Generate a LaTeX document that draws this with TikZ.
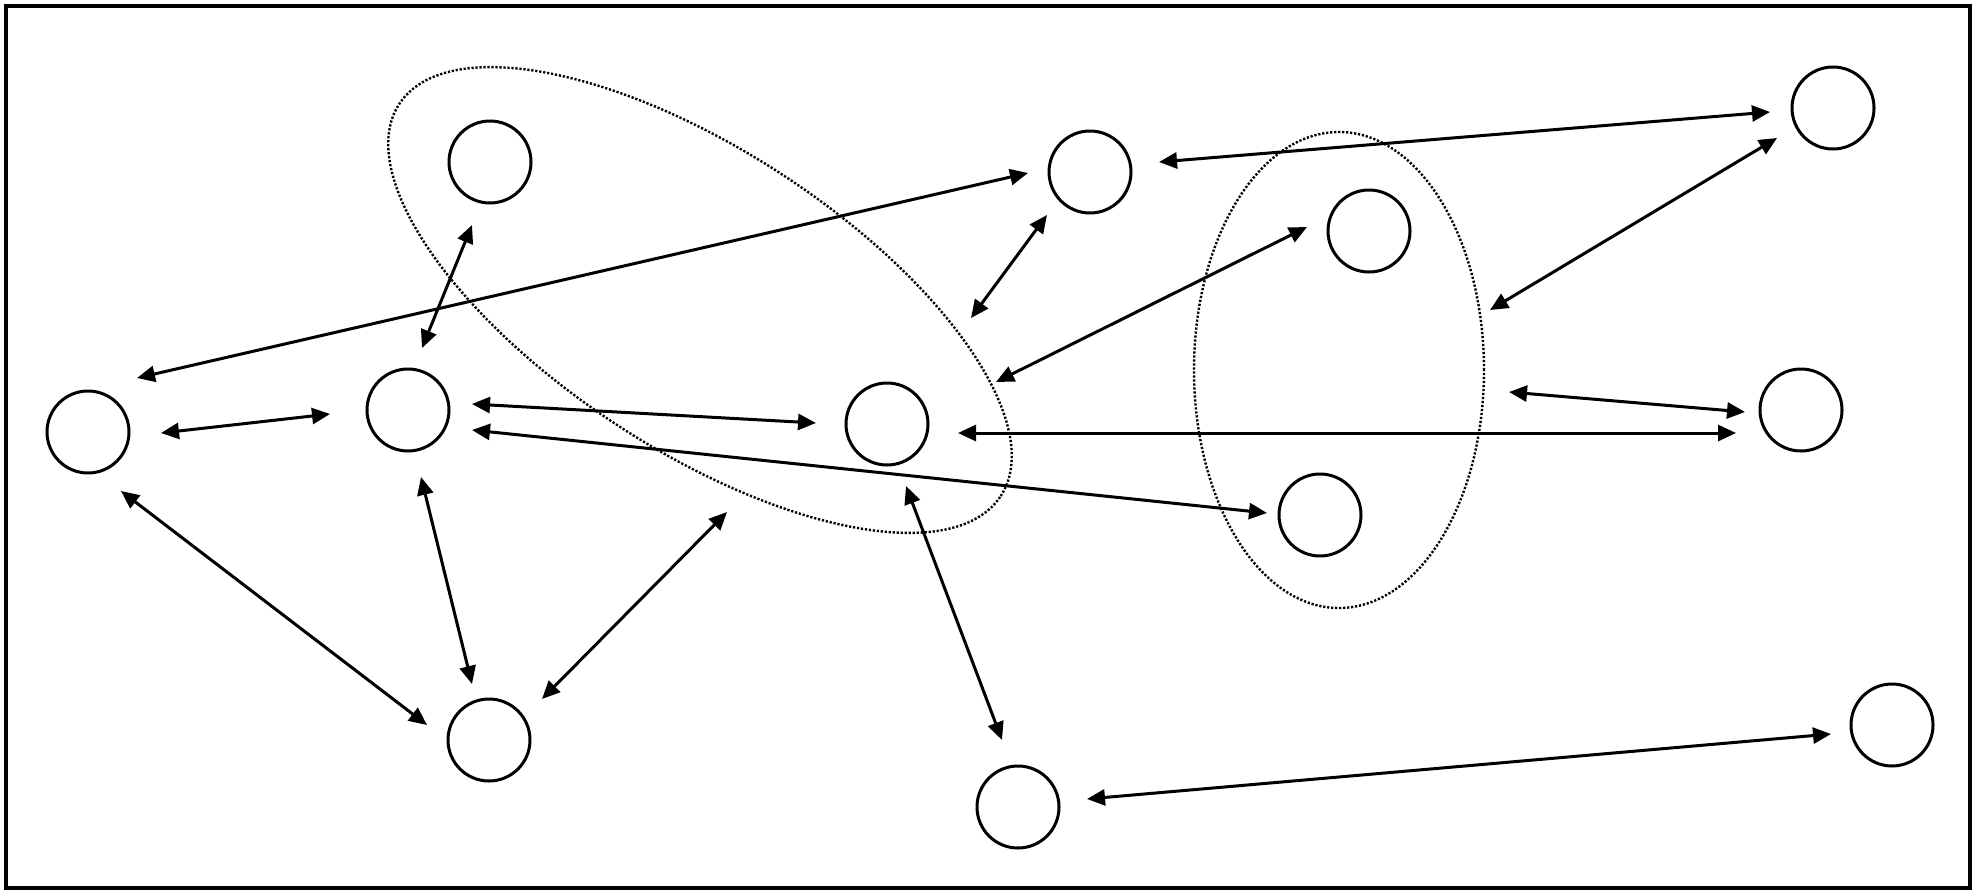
\documentclass[tikz,border=0pt]{standalone}
\usetikzlibrary{arrows.meta,shapes.geometric}
\begin{document}
\begin{tikzpicture}[x=0.5pt,y=-0.5pt,
  ent/.style={circle,draw,line width=1.5pt,minimum size=41pt,inner sep=0pt},
  grp/.style={ellipse,draw,line width=1.2pt,dash pattern=on 1.1pt off 0.9pt,inner sep=0pt},
  link/.style={line width=1.5pt,{Triangle[length=9pt,width=8pt]}-{Triangle[length=9pt,width=8pt]}}]
\useasboundingbox (0,0) rectangle (1980,894);
\draw[line width=2pt] (6,6) rectangle (1970,888);
% groups
\node[grp,minimum width=359pt,minimum height=150pt,rotate=-33.1] (LE) at (700,300) {};
\node[grp,minimum width=145pt,minimum height=238pt] (RE) at (1339,370) {};
% entities
\node[ent] (A) at (490,162) {};
\node[ent] (B) at (408,410) {};
\node[ent] (C) at (88,432) {};
\node[ent] (D) at (887,424) {};
\node[ent] (E) at (1090,172) {};
\node[ent] (F) at (1833,108) {};
\node[ent] (G) at (1369,231) {};
\node[ent] (H) at (1801,410) {};
\node[ent] (I) at (1320,515) {};
\node[ent] (J) at (489,740) {};
\node[ent] (K) at (1018,807) {};
\node[ent] (L) at (1892,725) {};
% free ends on the groups
\coordinate (le1) at (971,318);
\coordinate (le2) at (996,382);
\coordinate (le3) at (727,512);
\coordinate (re1) at (1490,310);
\coordinate (re2) at (1509,392);
% links
\draw[link] ([shift={(-18,63)}]A.center) -- ([shift={(14,-62)}]B.center);
\draw[link] ([shift={(49,-54)}]C.center) -- ([shift={(-62,1)}]E.center);
\draw[link] ([shift={(73,1)}]C.center) -- ([shift={(-78,4)}]B.center);
\draw[link] ([shift={(64,-6)}]B.center) -- ([shift={(-71,-1)}]D.center);
\draw[link] ([shift={(64,20)}]B.center) -- ([shift={(-53,-2)}]I.center);
\draw[link] ([shift={(71,9)}]D.center) -- ([shift={(-65,23)}]H.center);
\draw[link] ([shift={(-43,43)}]E.center) -- (le1);
\draw[link] ([shift={(69,-10)}]E.center) -- ([shift={(-63,4)}]F.center);
\draw[link] ([shift={(-56,30)}]F.center) -- (re1);
\draw[link] ([shift={(-62,-4)}]G.center) -- (le2);
\draw[link] ([shift={(-56,2)}]H.center) -- (re2);
\draw[link] ([shift={(33,59)}]C.center) -- ([shift={(-62,-15)}]J.center);
\draw[link] ([shift={(13,67)}]B.center) -- ([shift={(-17,-56)}]J.center);
\draw[link] ([shift={(53,-41)}]J.center) -- (le3);
\draw[link] ([shift={(19,62)}]D.center) -- ([shift={(-16,-67)}]K.center);
\draw[link] ([shift={(69,-8)}]K.center) -- ([shift={(-61,9)}]L.center);
\end{tikzpicture}
\end{document}
